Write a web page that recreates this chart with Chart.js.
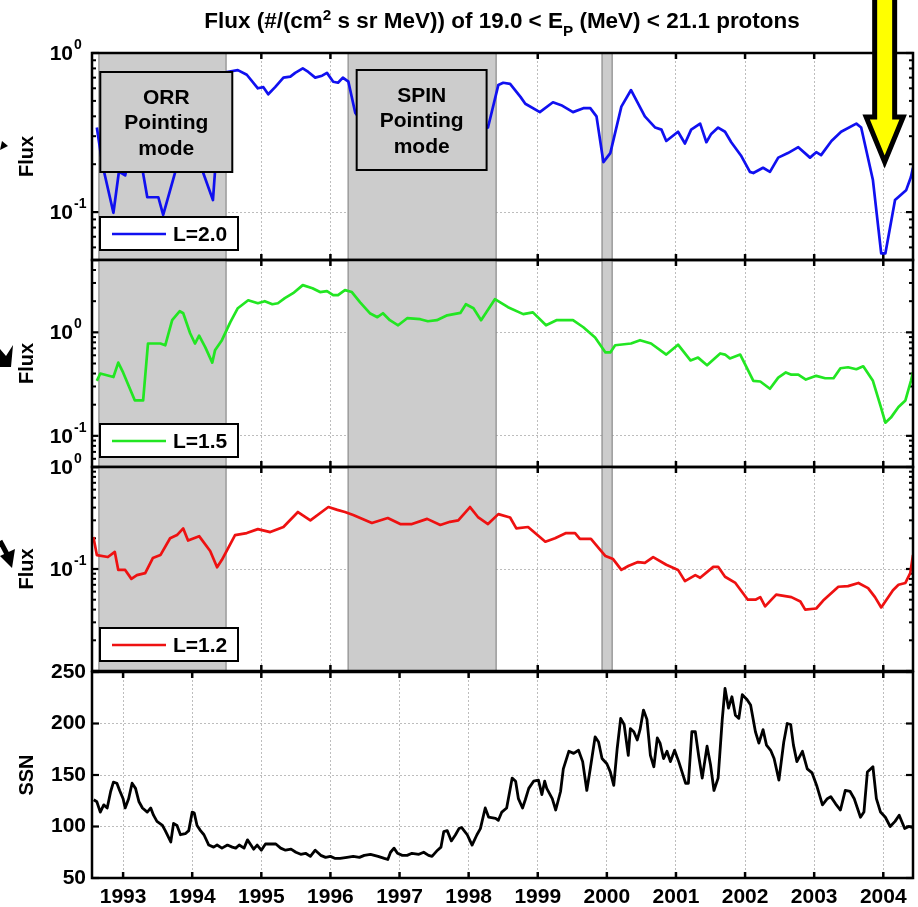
<!DOCTYPE html>
<html>
<head>
<meta charset="utf-8">
<title>Proton flux and sunspot number</title>
<script src="https://cdn.jsdelivr.net/npm/chart.js@4.4.1/dist/chart.umd.min.js"></script>
<style>
body { margin: 0; background: #fff; }
#wrap { position: relative; width: 918px; height: 907px; }
#wrap canvas { position: absolute; left: 0; top: 0; }
</style>
</head>
<body>
<div id="wrap">
<canvas id="p1" width="918" height="907"></canvas>
<canvas id="p2" width="918" height="907"></canvas>
<canvas id="p3" width="918" height="907"></canvas>
<canvas id="p4" width="918" height="907"></canvas>
</div>
<script>
var FONT = '"Liberation Sans", Arial, Helvetica, sans-serif';

// time axis
var xMin = 1992.55, xMax = 2004.43;
var tickYears = [1993, 1994, 1995, 1996, 1997, 1998, 1999, 2000, 2001, 2002, 2003, 2004];

// pointing mode periods (ORR, SPIN, short gap around 2000)
var shadeSpans = [[1992.65, 1994.49], [1996.256, 1998.398], [1999.93, 2000.077]];

// L = 2.0 flux
var yearsL20 = [
  1992.62,1992.70,1992.86,1992.94,1993.03,1993.15,1993.25,1993.35,1993.51,1993.58,
  1993.75,1993.85,1994.00,1994.16,1994.30,1994.33,1994.42,1994.50,1994.66,1994.79,
  1994.95,1995.03,1995.10,1995.20,1995.32,1995.42,1995.49,1995.60,1995.68,1995.78,
  1995.88,1995.95,1996.04,1996.11,1996.18,1996.26,1996.36,1996.50,1996.70,1997.00,
  1997.30,1997.60,1997.90,1998.15,1998.28,1998.43,1998.50,1998.60,1998.75,1998.82,
  1999.03,1999.22,1999.34,1999.51,1999.66,1999.76,1999.85,1999.95,2000.05,2000.21,
  2000.35,2000.55,2000.70,2000.79,2000.86,2001.03,2001.13,2001.22,2001.35,2001.44,
  2001.51,2001.61,2001.71,2001.80,2001.94,2002.07,2002.12,2002.26,2002.36,2002.48,
  2002.62,2002.77,2002.94,2003.03,2003.10,2003.25,2003.39,2003.61,2003.68,2003.85,
  2003.97,2004.03,2004.17,2004.33,2004.40,2004.43
];
var fluxL20 = [
  0.34,0.20,0.099,0.18,0.17,0.30,0.22,0.124,0.124,0.096,
  0.176,0.30,0.35,0.176,0.119,0.18,0.50,0.76,0.78,0.73,
  0.60,0.61,0.55,0.61,0.70,0.71,0.75,0.80,0.76,0.70,
  0.72,0.75,0.66,0.65,0.70,0.66,0.42,0.35,0.45,0.50,
  0.45,0.40,0.45,0.40,0.34,0.63,0.65,0.64,0.53,0.48,
  0.425,0.49,0.47,0.425,0.45,0.45,0.40,0.206,0.235,0.46,
  0.585,0.40,0.34,0.33,0.28,0.32,0.27,0.33,0.36,0.275,
  0.31,0.34,0.32,0.275,0.227,0.179,0.176,0.19,0.179,0.22,
  0.235,0.256,0.22,0.238,0.228,0.28,0.32,0.36,0.34,0.159,
  0.055,0.055,0.119,0.137,0.166,0.19
];

// L = 1.5 flux
var yearsL15 = [
  1992.62,1992.67,1992.86,1992.93,1993.00,1993.17,1993.29,1993.36,1993.54,1993.61,
  1993.71,1993.82,1993.87,1993.97,1994.04,1994.10,1994.19,1994.29,1994.33,1994.43,
  1994.55,1994.66,1994.81,1994.95,1995.05,1995.16,1995.24,1995.34,1995.46,1995.60,
  1995.74,1995.85,1995.95,1996.04,1996.11,1996.21,1996.31,1996.43,1996.57,1996.68,
  1996.76,1996.86,1996.98,1997.11,1997.30,1997.41,1997.54,1997.69,1997.88,1997.96,
  1998.07,1998.18,1998.38,1998.57,1998.79,1998.93,1999.12,1999.27,1999.51,1999.66,
  1999.83,1999.98,2000.05,2000.12,2000.35,2000.48,2000.64,2000.86,2001.03,2001.21,
  2001.32,2001.45,2001.64,2001.71,2001.78,2001.93,2002.12,2002.22,2002.36,2002.48,
  2002.59,2002.67,2002.77,2002.88,2003.03,2003.16,2003.28,2003.38,2003.49,2003.61,
  2003.71,2003.85,2003.96,2004.03,2004.11,2004.22,2004.32,2004.40,2004.43
];
var fluxL15 = [
  0.34,0.40,0.37,0.51,0.41,0.22,0.22,0.78,0.78,0.75,
  1.31,1.60,1.53,0.98,0.78,0.93,0.715,0.51,0.67,0.84,
  1.25,1.71,2.04,1.91,2.00,1.87,1.91,2.14,2.39,2.86,
  2.67,2.45,2.50,2.29,2.29,2.56,2.45,1.95,1.53,1.40,
  1.53,1.31,1.17,1.37,1.34,1.28,1.31,1.46,1.54,1.87,
  1.71,1.31,2.09,1.75,1.50,1.56,1.17,1.31,1.31,1.12,
  0.89,0.64,0.64,0.75,0.78,0.84,0.78,0.61,0.76,0.535,
  0.57,0.48,0.625,0.61,0.56,0.61,0.34,0.335,0.285,0.365,
  0.41,0.39,0.39,0.35,0.38,0.36,0.36,0.45,0.46,0.44,
  0.47,0.34,0.195,0.134,0.15,0.19,0.22,0.34,0.41
];

// L = 1.2 flux
var yearsL12 = [
  1992.57,1992.62,1992.78,1992.88,1992.93,1993.03,1993.12,1993.20,1993.32,1993.43,
  1993.54,1993.68,1993.78,1993.87,1993.94,1994.10,1994.26,1994.36,1994.43,1994.62,
  1994.79,1994.95,1995.13,1995.32,1995.53,1995.71,1995.97,1996.10,1996.21,1996.33,
  1996.60,1996.83,1997.01,1997.18,1997.40,1997.59,1997.73,1997.85,1998.02,1998.14,
  1998.28,1998.43,1998.60,1998.69,1998.86,1999.11,1999.25,1999.41,1999.54,1999.61,
  1999.77,1999.98,2000.09,2000.21,2000.31,2000.45,2000.55,2000.67,2000.86,2001.03,
  2001.13,2001.28,2001.35,2001.54,2001.61,2001.71,2001.86,2002.04,2002.15,2002.22,
  2002.29,2002.45,2002.67,2002.80,2002.87,2003.03,2003.13,2003.35,2003.49,2003.64,
  2003.78,2003.88,2003.97,2004.14,2004.22,2004.32,2004.39,2004.43
];
var fluxL12 = [
  0.206,0.137,0.131,0.147,0.098,0.098,0.080,0.087,0.091,0.128,
  0.137,0.200,0.215,0.250,0.190,0.210,0.150,0.104,0.123,0.215,
  0.225,0.246,0.230,0.258,0.362,0.300,0.405,0.380,0.362,0.338,
  0.283,0.316,0.276,0.276,0.310,0.270,0.290,0.300,0.405,0.320,
  0.276,0.345,0.320,0.250,0.258,0.185,0.200,0.225,0.225,0.197,
  0.197,0.134,0.125,0.098,0.107,0.117,0.115,0.131,0.110,0.098,
  0.076,0.087,0.082,0.105,0.105,0.084,0.073,0.050,0.050,0.053,
  0.043,0.056,0.053,0.048,0.040,0.041,0.049,0.067,0.068,0.073,
  0.065,0.053,0.042,0.062,0.070,0.073,0.091,0.137
];

// sunspot number
var ssnYears = [
  1992.575,1992.62,1992.67,1992.72,1992.77,1992.82,1992.86,1992.91,1992.95,1993.00,
  1993.03,1993.08,1993.13,1993.18,1993.23,1993.28,1993.35,1993.40,1993.44,1993.49,
  1993.57,1993.61,1993.69,1993.73,1993.78,1993.83,1993.90,1993.95,1994.00,1994.03,
  1994.07,1994.12,1994.17,1994.24,1994.31,1994.36,1994.43,1994.51,1994.58,1994.63,
  1994.68,1994.75,1994.80,1994.85,1994.89,1994.94,1995.00,1995.06,1995.14,1995.21,
  1995.28,1995.35,1995.43,1995.50,1995.57,1995.64,1995.71,1995.78,1995.86,1995.93,
  1996.00,1996.07,1996.14,1996.24,1996.33,1996.42,1996.49,1996.58,1996.69,1996.78,
  1996.83,1996.87,1996.92,1996.97,1997.04,1997.11,1997.18,1997.28,1997.35,1997.42,
  1997.47,1997.55,1997.60,1997.64,1997.69,1997.75,1997.81,1997.86,1997.90,1997.98,
  1998.05,1998.12,1998.17,1998.24,1998.29,1998.39,1998.43,1998.48,1998.55,1998.63,
  1998.68,1998.72,1998.78,1998.82,1998.87,1998.94,1999.01,1999.06,1999.10,1999.13,
  1999.21,1999.26,1999.33,1999.37,1999.45,1999.52,1999.59,1999.65,1999.71,1999.76,
  1999.83,1999.88,1999.93,2000.00,2000.05,2000.10,2000.15,2000.20,2000.25,2000.31,
  2000.34,2000.39,2000.44,2000.48,2000.53,2000.58,2000.63,2000.68,2000.73,2000.77,
  2000.82,2000.87,2000.92,2000.98,2001.04,2001.14,2001.18,2001.23,2001.28,2001.33,
  2001.38,2001.45,2001.50,2001.55,2001.61,2001.67,2001.71,2001.76,2001.81,2001.86,
  2001.91,2001.96,2002.03,2002.08,2002.15,2002.20,2002.26,2002.31,2002.37,2002.42,
  2002.49,2002.56,2002.61,2002.66,2002.70,2002.75,2002.83,2002.90,2002.97,2003.04,
  2003.12,2003.19,2003.24,2003.31,2003.38,2003.45,2003.52,2003.58,2003.67,2003.72,
  2003.77,2003.85,2003.90,2003.96,2004.03,2004.10,2004.17,2004.23,2004.31,2004.37,
  2004.43
];
var ssnValues = [
  126,124,114,121,118,134,143,142,135,127,
  118,127,142,137,124,118,114,118,111,105,
  101,96,85,103,101,92,93,96,114,113,
  101,96,92,82,80,82,79,82,80,79,
  82,79,87,82,78,82,77,83,83,83,
  79,77,78,75,73,74,71,77,72,70,
  71,69,69,70,71,70,72,73,71,69,
  68,75,79,74,72,72,74,73,75,72,
  71,77,80,95,96,86,92,98,99,92,
  82,92,98,118,109,108,106,114,118,147,
  144,127,118,126,137,144,145,131,144,137,
  127,116,134,156,173,171,174,163,135,156,
  187,182,166,161,153,140,176,205,199,169,
  195,192,184,194,213,204,169,158,186,181,
  166,173,163,174,163,142,142,192,192,168,
  147,178,160,135,147,204,234,215,226,208,
  205,228,223,218,192,181,194,179,174,166,
  145,182,200,199,179,163,173,156,152,139,
  121,127,129,122,116,135,134,127,109,114,
  153,158,127,114,109,100,105,111,98,100,
  99
];
var ssnTicks = [50, 100, 150, 200, 250];

var panels = [
  { id: 'p1', top: 53, bottom: 260, years: yearsL20, values: fluxL20, color: '#1010f0',
    legend: 'L=2.0', log: true, min: 0.05, max: 1, powerLabels: [0, -1], title: 'Flux', shaded: true },
  { id: 'p2', top: 260, bottom: 467, years: yearsL15, values: fluxL15, color: '#22e622',
    legend: 'L=1.5', log: true, min: 0.05, max: 5, powerLabels: [0, -1], title: 'Flux', shaded: true },
  { id: 'p3', top: 467, bottom: 671, years: yearsL12, values: fluxL12, color: '#ee1111',
    legend: 'L=1.2', log: true, min: 0.01, max: 1, powerLabels: [0, -1], title: 'Flux', shaded: true },
  { id: 'p4', top: 672, bottom: 878, years: ssnYears, values: ssnValues, color: '#000000',
    legend: null, log: false, min: 50, max: 250, powerLabels: [], title: 'SSN', shaded: false, last: true }
];

function toPoints(xs, ys) {
  var pts = [];
  for (var i = 0; i < xs.length && i < ys.length; i++) {
    pts.push({ x: xs[i], y: ys[i] });
  }
  return pts;
}

function logTickValues(min, max) {
  var major = [], minor = [];
  for (var e = Math.floor(Math.log10(min)); e <= Math.ceil(Math.log10(max)); e++) {
    for (var k = 1; k <= 9; k++) {
      var v = k * Math.pow(10, e);
      if (v < min * 0.999 || v > max * 1.001) continue;
      if (k === 1) major.push(v); else minor.push(v);
    }
  }
  return { major: major, minor: minor };
}

function line(ctx, x0, y0, x1, y1) {
  ctx.beginPath();
  ctx.moveTo(x0, y0);
  ctx.lineTo(x1, y1);
  ctx.stroke();
}

// title with cm^2 and E_P, sized to span 596px
function drawTitle(ctx, cx) {
  var parts = [
    { t: 'Flux (#/(cm', k: 0 },
    { t: '2', k: 1 },
    { t: ' s sr MeV)) of 19.0 < E', k: 0 },
    { t: 'P', k: -1 },
    { t: ' (MeV) < 21.1 protons', k: 0 }
  ];
  var size = 18, total = 0;
  parts.forEach(function (p) {
    ctx.font = 'bold ' + (p.k ? size * 0.68 : size) + 'px ' + FONT;
    total += ctx.measureText(p.t).width;
  });
  size = size * 596 / total;
  total = 0;
  parts.forEach(function (p) {
    ctx.font = 'bold ' + (p.k ? size * 0.68 : size) + 'px ' + FONT;
    p.w = ctx.measureText(p.t).width;
    total += p.w;
  });
  var x = cx - total / 2;
  ctx.fillStyle = '#000';
  ctx.textAlign = 'left';
  ctx.textBaseline = 'alphabetic';
  parts.forEach(function (p) {
    ctx.font = 'bold ' + (p.k ? size * 0.68 : size) + 'px ' + FONT;
    var y = p.k === 1 ? 20 : (p.k === -1 ? 36 : 28);
    ctx.fillText(p.t, x, y);
    x += p.w;
  });
}

function drawModeBox(ctx, xs, from, to, top, lines) {
  var x0 = xs.getPixelForValue(from), x1 = xs.getPixelForValue(to);
  ctx.fillStyle = '#cccccc';
  ctx.fillRect(x0, top, x1 - x0, 100);
  ctx.lineWidth = 2;
  ctx.strokeStyle = '#000';
  ctx.strokeRect(x0, top, x1 - x0, 100);
  ctx.fillStyle = '#000';
  ctx.font = 'bold 21px ' + FONT;
  ctx.textAlign = 'center';
  ctx.textBaseline = 'middle';
  for (var i = 0; i < lines.length; i++) {
    ctx.fillText(lines[i], (x0 + x1) / 2, top + 26 + i * 25.5);
  }
}

function drawYellowArrow(ctx, cx) {
  ctx.beginPath();
  ctx.moveTo(cx - 10, -6);
  ctx.lineTo(cx + 10, -6);
  ctx.lineTo(cx + 10, 117);
  ctx.lineTo(cx + 18.5, 117);
  ctx.lineTo(cx, 162);
  ctx.lineTo(cx - 18.5, 117);
  ctx.lineTo(cx - 10, 117);
  ctx.closePath();
  ctx.fillStyle = '#ffff00';
  ctx.fill();
  ctx.lineWidth = 5;
  ctx.lineJoin = 'miter';
  ctx.strokeStyle = '#000';
  ctx.stroke();
}

function poly(ctx, pts) {
  ctx.beginPath();
  ctx.moveTo(pts[0][0], pts[0][1]);
  for (var i = 1; i < pts.length; i++) ctx.lineTo(pts[i][0], pts[i][1]);
  ctx.closePath();
  ctx.fill();
}

// arrow stubs coming in from the left margin
function drawSideArrow(ctx, id) {
  ctx.fillStyle = '#000';
  ctx.strokeStyle = '#000';
  if (id === 'p1') {
    poly(ctx, [[0, 150], [8, 146], [2, 141]]);
  } else if (id === 'p2') {
    poly(ctx, [[0, 349], [6, 356], [13, 345], [11, 367], [0, 367]]);
  } else if (id === 'p3') {
    ctx.lineWidth = 5;
    line(ctx, 0, 541, 8, 556);
    poly(ctx, [[0, 556], [15, 549], [12, 568]]);
  }
}

function makeDecor(p) {
  return {
    id: 'decor_' + p.id,
    beforeDatasetsDraw: function (chart) {
      var ctx = chart.ctx, a = chart.chartArea;
      var xs = chart.scales.x, ys = chart.scales.y;
      ctx.save();
      ctx.strokeStyle = '#000';
      ctx.lineCap = 'butt';

      // year ticks, top and bottom, pointing inwards
      ctx.lineWidth = 2.5;
      tickYears.forEach(function (yr) {
        var px = xs.getPixelForValue(yr);
        line(ctx, px, a.top, px, a.top + 6);
        line(ctx, px, a.bottom, px, a.bottom - 6);
      });

      // value ticks on both sides
      var major, minor;
      if (p.log) {
        var lt = logTickValues(p.min, p.max);
        major = lt.major; minor = lt.minor;
      } else {
        major = ssnTicks; minor = [];
      }
      ctx.lineWidth = 2.2;
      major.forEach(function (v) {
        var py = ys.getPixelForValue(v);
        line(ctx, a.left, py, a.left + 7, py);
        line(ctx, a.right, py, a.right - 7, py);
      });
      ctx.lineWidth = 2;
      minor.forEach(function (v) {
        var py = ys.getPixelForValue(v);
        line(ctx, a.left, py, a.left + 4, py);
        line(ctx, a.right, py, a.right - 4, py);
      });

      // pointing mode shading
      if (p.shaded) {
        shadeSpans.forEach(function (s) {
          var x0 = xs.getPixelForValue(s[0]), x1 = xs.getPixelForValue(s[1]);
          ctx.fillStyle = '#cccccc';
          ctx.fillRect(x0, a.top, x1 - x0, a.bottom - a.top);
          ctx.strokeStyle = '#8a8a8a';
          ctx.lineWidth = 1.2;
          line(ctx, x0, a.top, x0, a.bottom);
          line(ctx, x1, a.top, x1, a.bottom);
        });
      }
      ctx.restore();
    },
    afterDatasetsDraw: function (chart) {
      var ctx = chart.ctx, a = chart.chartArea;
      var xs = chart.scales.x, ys = chart.scales.y;
      ctx.save();

      if (p.id === 'p1') {
        drawModeBox(ctx, xs, 1992.67, 1994.58, 72, ['ORR', 'Pointing', 'mode']);
        drawModeBox(ctx, xs, 1996.38, 1998.26, 70, ['SPIN', 'Pointing', 'mode']);
      }

      // legend
      if (p.legend) {
        var lx = a.left + 8, ly = a.bottom - 43;
        ctx.fillStyle = '#fff';
        ctx.fillRect(lx, ly, 138, 33);
        ctx.lineWidth = 2;
        ctx.strokeStyle = '#000';
        ctx.strokeRect(lx, ly, 138, 33);
        ctx.strokeStyle = p.color;
        ctx.lineWidth = 2.6;
        line(ctx, lx + 12, ly + 17, lx + 66, ly + 17);
        ctx.fillStyle = '#000';
        ctx.font = 'bold 21px ' + FONT;
        ctx.textAlign = 'left';
        ctx.textBaseline = 'middle';
        ctx.fillText(p.legend, lx + 73, ly + 18);
      }

      // axes box
      ctx.lineWidth = 2.5;
      ctx.strokeStyle = '#000';
      ctx.strokeRect(a.left, a.top, a.right - a.left, a.bottom - a.top);

      // powers of ten on the log axes
      ctx.fillStyle = '#000';
      p.powerLabels.forEach(function (e) {
        var py = ys.getPixelForValue(Math.pow(10, e));
        ctx.textBaseline = 'middle';
        ctx.font = 'bold 21px ' + FONT;
        ctx.textAlign = 'right';
        ctx.fillText('10', 73, py + 1);
        ctx.font = 'bold 14px ' + FONT;
        ctx.textAlign = 'left';
        ctx.fillText(String(e), 74, py - 8);
      });

      // y axis title
      ctx.save();
      ctx.translate(27, (a.top + a.bottom) / 2);
      ctx.rotate(-Math.PI / 2);
      ctx.font = 'bold 20px ' + FONT;
      ctx.textAlign = 'center';
      ctx.textBaseline = 'middle';
      ctx.fillText(p.title, 0, 0);
      ctx.restore();

      drawSideArrow(ctx, p.id);

      if (p.id === 'p1') {
        drawTitle(ctx, 502);
        drawYellowArrow(ctx, xs.getPixelForValue(2004.02));
      }
      ctx.restore();
    }
  };
}

function hideEdgeGrid(p) {
  return function (c) {
    var v = c.tick ? c.tick.value : null;
    if (v === null) return 'rgba(0,0,0,0)';
    if (Math.abs(v - p.min) < 1e-9 || Math.abs(v - p.max) < 1e-9) return 'rgba(0,0,0,0)';
    return '#bdbdbd';
  };
}

function buildPanel(p) {
  var yScale;
  if (p.log) {
    var decades = logTickValues(p.min, p.max).major;
    yScale = {
      type: 'logarithmic', min: p.min, max: p.max,
      afterBuildTicks: function (s) { s.ticks = decades.map(function (v) { return { value: v }; }); },
      afterFit: function (s) { s.width = 92; },
      ticks: { display: false },
      grid: { color: hideEdgeGrid(p), lineWidth: 1, drawTicks: false },
      border: { display: false, dash: [2, 2] }
    };
  } else {
    yScale = {
      type: 'linear', min: p.min, max: p.max,
      afterBuildTicks: function (s) { s.ticks = ssnTicks.map(function (v) { return { value: v }; }); },
      afterFit: function (s) { s.width = 92; },
      ticks: { color: '#000', padding: 6, font: { family: FONT, size: 21, weight: 'bold' } },
      grid: { color: hideEdgeGrid(p), lineWidth: 1, drawTicks: false },
      border: { display: false, dash: [2, 2] }
    };
  }

  return new Chart(document.getElementById(p.id).getContext('2d'), {
    type: 'line',
    data: {
      datasets: [{
        data: toPoints(p.years, p.values),
        borderColor: p.color,
        borderWidth: p.last ? 2.8 : 2.7,
        borderJoinStyle: 'round',
        pointRadius: 0,
        tension: 0,
        fill: false
      }]
    },
    options: {
      responsive: false,
      animation: false,
      events: [],
      layout: { padding: { left: 0, right: 5, top: p.top, bottom: p.last ? 0 : 907 - p.bottom } },
      plugins: { legend: { display: false }, tooltip: { enabled: false } },
      scales: {
        x: {
          type: 'linear', min: xMin, max: xMax,
          afterBuildTicks: function (s) { s.ticks = tickYears.map(function (v) { return { value: v }; }); },
          afterFit: function (s) { s.height = p.last ? 907 - p.bottom : 0; },
          ticks: {
            display: !!p.last, color: '#000', padding: 7, maxRotation: 0, autoSkip: false,
            font: { family: FONT, size: 21, weight: 'bold' },
            callback: function (v) { return String(v); }
          },
          grid: { color: '#bdbdbd', lineWidth: 1, drawTicks: false },
          border: { display: false, dash: [2, 2] }
        },
        y: yScale
      }
    },
    plugins: [makeDecor(p)]
  });
}

panels.forEach(buildPanel);
</script>
</body>
</html>
